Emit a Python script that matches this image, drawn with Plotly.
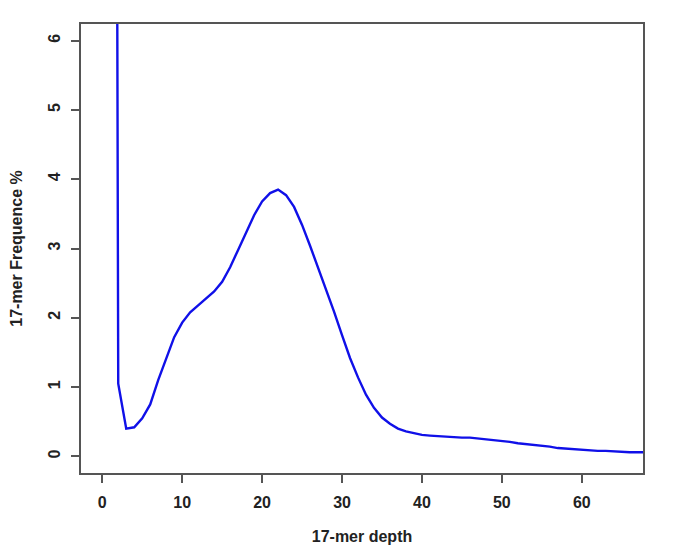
import plotly.graph_objects as go

# 17-mer depth distribution
depth = list(range(1, 69))
freq = [45.0, 1.05, 0.40, 0.42, 0.55, 0.75, 1.10, 1.40, 1.72, 1.93,
        2.08, 2.18, 2.28, 2.38, 2.52, 2.73, 2.98, 3.22, 3.48, 3.68,
        3.80, 3.85, 3.77, 3.60, 3.34, 3.04, 2.73, 2.43, 2.09, 1.75,
        1.42, 1.14, 0.89, 0.70, 0.56, 0.47, 0.40, 0.36, 0.33, 0.31,
        0.30, 0.29, 0.29, 0.28, 0.27, 0.27, 0.26, 0.25, 0.24, 0.22,
        0.21, 0.19, 0.18, 0.16, 0.15, 0.14, 0.12, 0.11, 0.10, 0.09,
        0.09, 0.08, 0.08, 0.07, 0.07, 0.06, 0.06, 0.06]

fig = go.Figure()
fig.add_trace(go.Scatter(x=depth, y=freq, mode="lines",
                         line=dict(color="#1010e8", width=2.4)))

axis_font = dict(family="Liberation Sans, Arial", size=16, color="#222", weight="bold")

fig.update_layout(
    width=685, height=550,
    margin=dict(l=73, r=50, t=16, b=85, autoexpand=False),
    plot_bgcolor="white", paper_bgcolor="white",
    showlegend=False,
    xaxis=dict(range=[-2.66, 67.66], tickvals=[0, 10, 20, 30, 40, 50, 60],
               showline=True, mirror=True, linecolor="#555", linewidth=1.5,
               ticks="outside", ticklen=8, tickcolor="#555", tickwidth=1.5,
               showgrid=False, zeroline=False, tickfont=axis_font,
               ticklabelstandoff=6,
               title=dict(text="17-mer depth", font=axis_font, standoff=21)),
    yaxis=dict(range=[-0.24, 6.24], tickvals=[0, 1, 2, 3, 4, 5, 6],
               showline=True, mirror=True, linecolor="#555", linewidth=1.5,
               ticks="outside", ticklen=8, tickcolor="#555", tickwidth=1.5,
               showgrid=False, zeroline=False, tickfont=axis_font,
               tickangle=-90, ticklabelstandoff=5,
               title=dict(text="17-mer Frequence %", font=axis_font, standoff=19)),
)

fig.write_html("out.html")
